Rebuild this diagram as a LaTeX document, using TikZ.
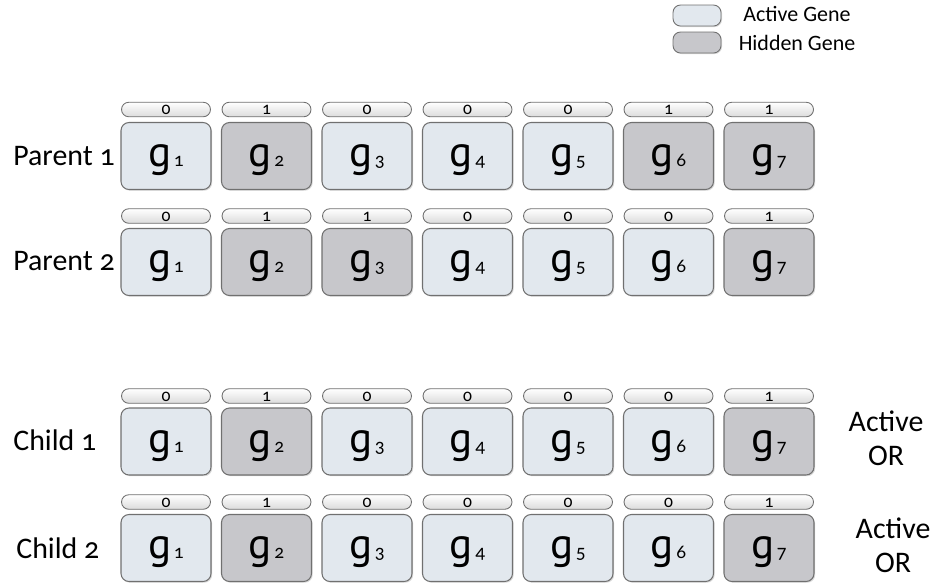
\documentclass[tikz,border=0pt]{standalone}
\usepackage{fontspec}
\setmainfont{Carlito}[Numbers=OldStyle]
\newfontfamily\genefont{PT Sans}
\usetikzlibrary{shadows}
\definecolor{actfill}{RGB}{226,232,238}
\definecolor{hidfill}{RGB}{199,199,203}
\definecolor{edgegrey}{RGB}{112,112,112}
\newcommand{\gn}[1]{{\genefont g}\hspace{1.4pt}{\fontsize{11}{11}\selectfont #1}}

\begin{document}
\begin{tikzpicture}[x=0.02cm,y=-0.02cm,line join=round,
  genebox/.style={draw=edgegrey,line width=0.6pt,rounded corners=0.16cm,minimum width=1.8cm,minimum height=1.34cm,inner sep=0pt,font=\fontsize{24.5}{24.5}\selectfont,text height=12.4pt,text depth=0pt,drop shadow={shadow xshift=0.7pt,shadow yshift=-0.7pt,opacity=0.3}},
  active/.style={genebox,fill=actfill},
  hidden/.style={genebox,fill=hidfill},
  bitbar/.style={draw=edgegrey,line width=0.5pt,rounded corners=0.145cm,minimum width=1.78cm,minimum height=0.29cm,inner sep=0pt,top color=white,bottom color=black!14,font=\fontsize{10}{10}\selectfont,text height=6.2pt,text depth=0pt},
  rowlabel/.style={anchor=base west,inner sep=0pt,font=\fontsize{17}{19}\selectfont},
  keybox/.style={draw=edgegrey,line width=0.5pt,rounded corners=0.15cm,minimum width=0.96cm,minimum height=0.42cm,inner sep=0pt,drop shadow={shadow xshift=0.6pt,shadow yshift=-0.6pt,opacity=0.3}}]
\useasboundingbox (0,0) rectangle (935,586);
% legend
\node[keybox,fill=actfill] (keyact) at (697,15.5) {};
\node[keybox,fill=hidfill] (keyhid) at (697,42.5) {};
\node[anchor=base,font=\fontsize{12.5}{14}\selectfont] (keyacttxt) at (797,21) {Active Gene};
\node[anchor=base,font=\fontsize{12.5}{14}\selectfont] (keyhidtxt) at (797,50) {Hidden Gene};
% parent 1
\node[rowlabel] (lpar1) at (13,165) {Parent 1};
\node[bitbar] (par1b1) at (166,109.5) {0};
\node[bitbar] (par1b2) at (266.5,109.5) {1};
\node[bitbar] (par1b3) at (367,109.5) {0};
\node[bitbar] (par1b4) at (467.5,109.5) {0};
\node[bitbar] (par1b5) at (568,109.5) {0};
\node[bitbar] (par1b6) at (668.5,109.5) {1};
\node[bitbar] (par1b7) at (769,109.5) {1};
\node[active] (par1g1) at (166,156) {\gn{1}};
\node[hidden] (par1g2) at (266.5,156) {\gn{2}};
\node[active] (par1g3) at (367,156) {\gn{3}};
\node[active] (par1g4) at (467.5,156) {\gn{4}};
\node[active] (par1g5) at (568,156) {\gn{5}};
\node[hidden] (par1g6) at (668.5,156) {\gn{6}};
\node[hidden] (par1g7) at (769,156) {\gn{7}};
% parent 2
\node[rowlabel] (lpar2) at (13,270) {Parent 2};
\node[bitbar] (par2b1) at (166,216) {0};
\node[bitbar] (par2b2) at (266.5,216) {1};
\node[bitbar] (par2b3) at (367,216) {1};
\node[bitbar] (par2b4) at (467.5,216) {0};
\node[bitbar] (par2b5) at (568,216) {0};
\node[bitbar] (par2b6) at (668.5,216) {0};
\node[bitbar] (par2b7) at (769,216) {1};
\node[active] (par2g1) at (166,262) {\gn{1}};
\node[hidden] (par2g2) at (266.5,262) {\gn{2}};
\node[hidden] (par2g3) at (367,262) {\gn{3}};
\node[active] (par2g4) at (467.5,262) {\gn{4}};
\node[active] (par2g5) at (568,262) {\gn{5}};
\node[active] (par2g6) at (668.5,262) {\gn{6}};
\node[hidden] (par2g7) at (769,262) {\gn{7}};
% child 1
\node[rowlabel] (lchi1) at (13,450) {Child 1};
\node[bitbar] (chi1b1) at (166,396) {0};
\node[bitbar] (chi1b2) at (266.5,396) {1};
\node[bitbar] (chi1b3) at (367,396) {0};
\node[bitbar] (chi1b4) at (467.5,396) {0};
\node[bitbar] (chi1b5) at (568,396) {0};
\node[bitbar] (chi1b6) at (668.5,396) {0};
\node[bitbar] (chi1b7) at (769,396) {1};
\node[active] (chi1g1) at (166,441.5) {\gn{1}};
\node[hidden] (chi1g2) at (266.5,441.5) {\gn{2}};
\node[active] (chi1g3) at (367,441.5) {\gn{3}};
\node[active] (chi1g4) at (467.5,441.5) {\gn{4}};
\node[active] (chi1g5) at (568,441.5) {\gn{5}};
\node[active] (chi1g6) at (668.5,441.5) {\gn{6}};
\node[hidden] (chi1g7) at (769,441.5) {\gn{7}};
\node[align=center,font=\fontsize{17}{19.5}\selectfont] (or1) at (886,438) {Active\\OR};
% child 2
\node[rowlabel] (lchi2) at (16,558) {Child 2};
\node[bitbar] (chi2b1) at (166,502) {0};
\node[bitbar] (chi2b2) at (266.5,502) {1};
\node[bitbar] (chi2b3) at (367,502) {0};
\node[bitbar] (chi2b4) at (467.5,502) {0};
\node[bitbar] (chi2b5) at (568,502) {0};
\node[bitbar] (chi2b6) at (668.5,502) {0};
\node[bitbar] (chi2b7) at (769,502) {1};
\node[active] (chi2g1) at (166,548) {\gn{1}};
\node[hidden] (chi2g2) at (266.5,548) {\gn{2}};
\node[active] (chi2g3) at (367,548) {\gn{3}};
\node[active] (chi2g4) at (467.5,548) {\gn{4}};
\node[active] (chi2g5) at (568,548) {\gn{5}};
\node[active] (chi2g6) at (668.5,548) {\gn{6}};
\node[hidden] (chi2g7) at (769,548) {\gn{7}};
\node[align=center,font=\fontsize{17}{19.5}\selectfont] (or2) at (893,545) {Active\\OR};
\end{tikzpicture}
\end{document}
